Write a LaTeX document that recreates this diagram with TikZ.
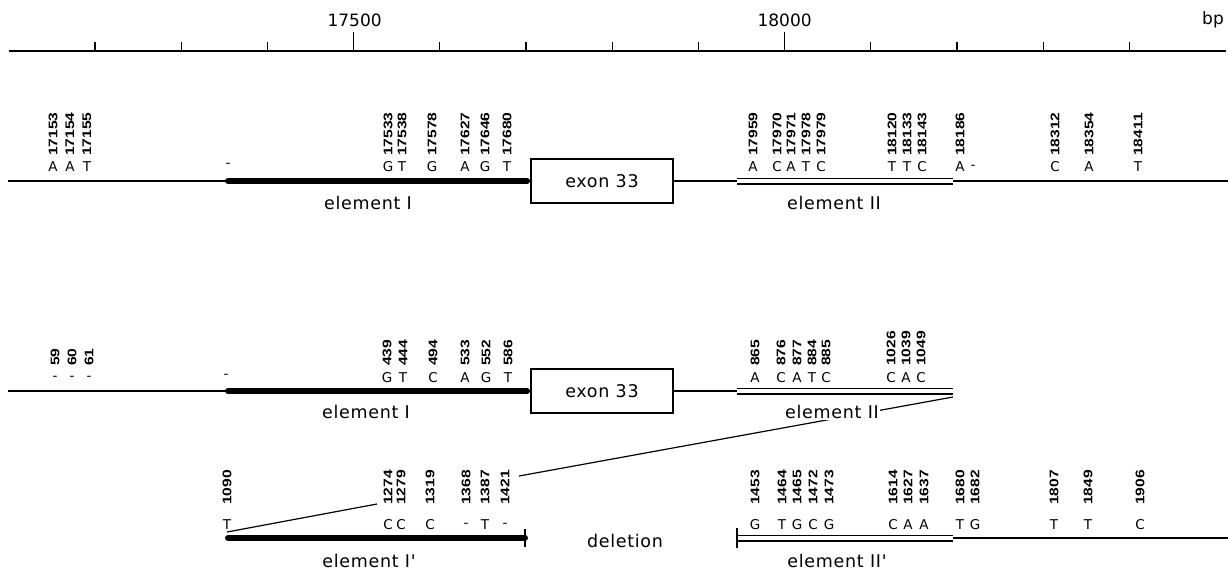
\documentclass[tikz,border=0pt]{standalone}
\usepackage{fontspec}
\usepackage{graphicx}
\setmainfont{DejaVu Sans}
\newfontfamily\labelfam[LetterSpace=4]{DejaVu Sans}
\newfontfamily\posfam{Liberation Sans}
\newcommand\posnum[1]{\scalebox{1.25}[1]{#1}}

\begin{document}
\begin{tikzpicture}[x=1pt,y=-1pt,
  thinline/.style={line width=1.3pt},
  thickline/.style={line width=6pt},
  dblline/.style={draw=black, line width=1.3pt, double=white, double distance=4.4pt},
  rulertick/.style={line width=1.1pt},
  diag/.style={line width=1.2pt},
  endbar/.style={line width=1.3pt},
  numlab/.style={rotate=90, anchor=west, inner sep=0pt,
    font=\posfam\bfseries\fontsize{12.5}{12.5}\selectfont},
  baselab/.style={inner sep=0pt, font=\fontsize{13.5}{13.5}\selectfont},
  elab/.style={inner sep=0pt, font=\labelfam\fontsize{17.5}{17.5}\selectfont},
  scalelab/.style={inner sep=0pt, font=\fontsize{17}{17}\selectfont},
  exonbox/.style={draw, line width=1.3pt, fill=white, minimum width=142pt,
    minimum height=44pt, inner sep=0pt,
    font=\labelfam\fontsize{17.5}{17.5}\selectfont}
]
\useasboundingbox (0,0) rectangle (1228,571);

% ---------------- scale bar ----------------
\coordinate (rL) at (9,51);
\coordinate (rR) at (1226,51);
\draw[thinline] (rL) -- (rR);
\foreach \k in {0,1,2,4,5,6,7,9,10,11,12}{
  \pgfmathsetmacro\tx{95+86.2*\k}
  \draw[rulertick] (\tx,51) -- (\tx,42);
}
\foreach \k in {3,8}{
  \pgfmathsetmacro\tx{95+86.2*\k}
  \draw[rulertick] (\tx,51) -- (\tx,32);
}
\node[scalelab] (s17500) at (354.6,20) {17500};
\node[scalelab] (s18000) at (784.6,20) {18000};
\node[scalelab] (sbp) at (1213,20) {bp};

% ---------------- first map ----------------
\coordinate (aL) at (8,181);
\coordinate (aR) at (1228,181);
\coordinate (aIs) at (228,181);
\coordinate (aIe) at (527,181);
\coordinate (aIIs) at (737,181);
\coordinate (aIIe) at (953,181);
\draw[thinline] (aL) -- (aR);
\draw[thickline, line cap=round] (aIs) -- ++(200,0) -- (aIe);
\draw[dblline] (aIIs) -- (aIIe);
\node[exonbox] (ex1) at (602,181) {exon 33};
\node[elab] (eI1) at (368,203) {element I};
\node[elab] (eII1) at (834,203) {element II};

\foreach \x/\n/\b [count=\i] in {
  53/17153/A, 70/17154/A, 87/17155/T,
  388/17533/G, 402/17538/T, 432/17578/G, 465/17627/A, 485/17646/G, 507/17680/T,
  753/17959/A, 777/17970/C, 791/17971/A, 806/17978/T, 821/17979/C,
  892/18120/T, 907/18133/T, 922/18143/C,
  960/18186/A, 1055/18312/C, 1089/18354/A, 1138/18411/T}{
  \node[numlab] (pa\i) at (\x,156) {\posnum{\n}};
  \node[baselab] (ba\i) at (\x,167) {\b};
}
\node[baselab] (bax1) at (228,165) {-};
\node[baselab] (bax2) at (973,167) {-};

% ---------------- second map ----------------
\coordinate (bL) at (8,391);
\coordinate (bIs) at (228,391);
\coordinate (bIe) at (527,391);
\coordinate (bIIs) at (737,391);
\coordinate (bIIe) at (953,391);
\draw[thinline] (bL) -- (bIIs);
\draw[thickline, line cap=round] (bIs) -- ++(200,0) -- (bIe);
\draw[dblline] (bIIs) -- (bIIe);
\node[exonbox] (ex2) at (602,391) {exon 33};
\node[elab] (eI2) at (366,412) {element I};

\foreach \x/\n/\b [count=\i] in {
  55/59/-, 72/60/-, 89/61/-,
  387/439/G, 403/444/T, 433/494/C, 465/533/A, 486/552/G, 508/586/T,
  755/865/A, 781/876/C, 797/877/A, 812/884/T, 826/885/C,
  891/1026/C, 906/1039/A, 921/1049/C}{
  \node[numlab] (pb\i) at (\x,366) {\posnum{\n}};
  \node[baselab] (bb\i) at (\x,378) {\b};
}
\node[baselab] (bbx1) at (226,376) {-};

% ---------------- third map (deletion) ----------------
\coordinate (cIs) at (228,538);
\coordinate (cIe) at (525,538);
\coordinate (cIIs) at (737,538);
\coordinate (cIIe) at (953,538);
\coordinate (cR) at (1228,538);
\draw[thickline, line cap=round] (cIs) -- ++(200,0) -- (cIe);
\draw[endbar] (525,529) -- (525,547);
\draw[thinline] (cIIe) -- (cR);
\draw[dblline] (cIIs) -- (cIIe);
\draw[endbar] (737,528) -- (737,548);
\node[elab] (eI3) at (369,561) {element I'};
\node[elab] (eII3) at (837,561) {element II'};
\node[elab] (del) at (625,541) {deletion};

\foreach \x/\n/\b [count=\i] in {
  227/1090/T,
  388/1274/C, 401/1279/C, 430/1319/C, 466/1368/-, 485/1387/T, 505/1421/-,
  755/1453/G, 782/1464/T, 797/1465/G, 813/1472/C, 829/1473/G,
  893/1614/C, 908/1627/A, 924/1637/A,
  960/1680/T, 975/1682/G,
  1054/1807/T, 1088/1849/T, 1140/1906/C}{
  \node[numlab] (pc\i) at (\x,505) {\posnum{\n}};
  \node[baselab] (bc\i) at (\x,525) {\b};
}

% ---------------- connectors between the maps ----------------
\coordinate (d1a) at (953,397);
\coordinate (d1b) at (519,476);
\draw[diag] (d1a) -- (d1b);
\coordinate (d2a) at (227,532);
\coordinate (d2b) at (377,504);
\draw[diag] (d2a) -- (d2b);
\node[elab, fill=white, inner sep=1pt] (eII2) at (832,412) {element II};
\end{tikzpicture}
\end{document}
